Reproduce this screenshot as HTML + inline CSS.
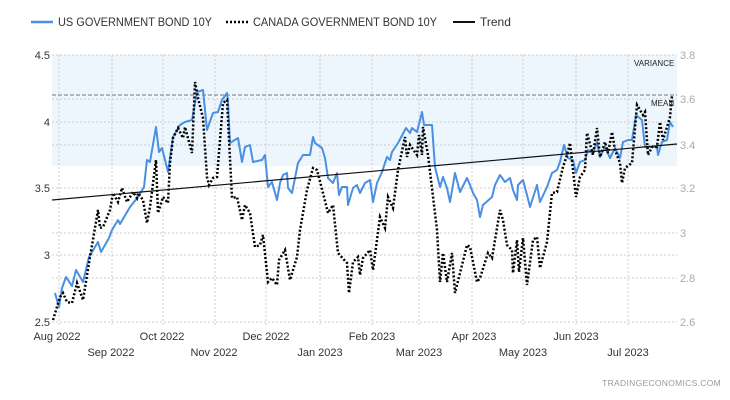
<!DOCTYPE html>
<html><head><meta charset="utf-8"><style>
html,body{margin:0;padding:0;background:#fff}
svg{display:block}
text{font-family:"Liberation Sans",sans-serif}
</style></head><body>
<svg width="730" height="400" viewBox="0 0 730 400" xmlns="http://www.w3.org/2000/svg">
<rect x="52" y="55" width="625" height="111" fill="#eef6fd"/>
<g stroke="#ccc" stroke-width="1" stroke-dasharray="2 2" fill="none">
<line x1="52" y1="55" x2="677" y2="55"/><line x1="52" y1="122" x2="677" y2="122"/><line x1="52" y1="188" x2="677" y2="188"/><line x1="52" y1="255" x2="677" y2="255"/><line x1="52" y1="322" x2="677" y2="322"/>
<line x1="52" y1="99" x2="677" y2="99"/><line x1="52" y1="145" x2="677" y2="145"/><line x1="52" y1="233" x2="677" y2="233"/><line x1="52" y1="278" x2="677" y2="278"/>
<line x1="59" y1="55" x2="59" y2="327"/><line x1="112" y1="55" x2="112" y2="327"/><line x1="163" y1="55" x2="163" y2="327"/><line x1="215" y1="55" x2="215" y2="327"/><line x1="266" y1="55" x2="266" y2="327"/><line x1="320" y1="55" x2="320" y2="327"/><line x1="372" y1="55" x2="372" y2="327"/><line x1="419" y1="55" x2="419" y2="327"/><line x1="472" y1="55" x2="472" y2="327"/><line x1="523" y1="55" x2="523" y2="327"/><line x1="576" y1="55" x2="576" y2="327"/><line x1="628" y1="55" x2="628" y2="327"/>
</g>
<line x1="52" y1="95" x2="677" y2="95" stroke="#777" stroke-width="1" stroke-dasharray="4 2"/>
<text x="634" y="66" font-size="8" fill="#222">VARIANCE</text>
<text x="651" y="106" font-size="8" fill="#222">MEAN</text>
<polyline fill="none" stroke="#4a90e2" stroke-width="2" stroke-linejoin="round" points="55,293 59,307 62,288 66,277 72,286 76,270 83,282 89,257 98,242 101,252 109,238 112,230 118,220 120,224 130,207 138,197 144,187 147,160 150,162 156,127 159,152 162,148 168,172 173,137 180,125 185,122 192,120 197,92 203,90 207,130 213,113 218,112 222,100 227,93 228,102 230,143 238,138 242,162 245,147 250,145 253,162 262,160 265,155 268,187 272,182 277,200 280,183 283,175 287,173 288,188 292,193 298,163 303,155 310,155 313,137 315,143 322,148 325,158 328,178 333,183 337,173 339,195 342,187 347,187 348,205 353,188 357,185 360,193 365,183 370,180 373,202 377,183 382,172 387,157 390,160 392,152 398,143 406,128 410,133 412,128 417,132 422,112 424,125 432,125 435,167 440,187 443,177 447,188 450,202 455,173 460,192 467,178 470,185 473,193 477,200 480,217 483,205 492,197 495,185 500,175 505,182 510,178 513,190 517,200 518,185 523,180 527,195 530,207 537,185 540,202 547,187 552,173 557,170 560,162 564,145 568,158 573,160 576,173 580,162 585,160 588,150 593,153 597,142 600,157 605,147 610,158 615,148 620,158 623,142 628,140 632,140 636,115 642,120 645,147 650,147 657,147 658,155 662,142 667,140 670,122 673,127"/>
<polyline fill="none" stroke="#000" stroke-width="2.5" stroke-dasharray="2 2" points="53,320 60,297 63,293 67,302 72,303 77,283 83,300 90,257 98,210 100,228 103,227 110,210 113,193 118,202 122,188 127,202 133,192 137,198 138,193 143,200 147,223 150,207 156,160 158,213 163,197 168,203 170,163 173,138 178,128 183,138 185,127 192,153 195,82 198,98 203,118 207,177 209,185 213,178 217,177 223,103 227,100 232,198 237,197 242,220 245,205 250,213 255,247 260,245 263,235 268,282 272,278 277,285 279,260 282,255 285,250 290,280 297,257 300,230 307,190 313,168 317,170 323,193 328,213 333,205 338,253 347,263 349,293 353,262 358,257 360,275 363,258 370,250 373,270 380,217 385,228 388,197 393,208 398,170 405,137 407,157 410,145 417,155 419,135 422,155 423,127 428,155 437,230 440,282 443,253 447,282 452,253 455,293 460,273 467,245 470,247 477,282 480,278 488,253 492,258 500,210 503,220 507,245 512,250 513,273 517,240 519,272 523,238 527,285 533,240 537,237 540,268 547,242 552,193 557,192 563,167 567,155 570,143 576,197 580,177 585,170 587,133 593,155 597,128 600,157 605,142 608,153 612,132 615,150 620,163 622,183 625,168 632,163 637,105 643,115 645,112 648,155 652,147 657,147 660,122 663,140 667,127 670,117 672,95"/>
<line x1="52" y1="200" x2="677" y2="144" stroke="#111" stroke-width="1.2"/>
<g font-size="11" fill="#333" text-anchor="end">
<text x="50" y="59">4.5</text><text x="50" y="126">4</text><text x="50" y="192">3.5</text><text x="50" y="259">3</text><text x="50" y="326">2.5</text>
</g>
<g font-size="11" fill="#aaa">
<text x="680" y="59">3.8</text><text x="680" y="103">3.6</text><text x="680" y="149">3.4</text><text x="680" y="192">3.2</text><text x="680" y="237">3</text><text x="680" y="282">2.8</text><text x="680" y="326">2.6</text>
</g>
<g font-size="11" fill="#333" text-anchor="middle">
<text x="57" y="340">Aug 2022</text><text x="111" y="356">Sep 2022</text><text x="162" y="340">Oct 2022</text><text x="214" y="356">Nov 2022</text><text x="266" y="340">Dec 2022</text><text x="320" y="356">Jan 2023</text><text x="372" y="340">Feb 2023</text><text x="419" y="356">Mar 2023</text><text x="474" y="340">Apr 2023</text><text x="523" y="356">May 2023</text><text x="576" y="340">Jun 2023</text><text x="628" y="356">Jul 2023</text>
</g>
<line x1="31" y1="22" x2="53" y2="22" stroke="#4a90e2" stroke-width="2.5"/>
<text x="58" y="26" font-size="12" fill="#333" textLength="154" lengthAdjust="spacingAndGlyphs">US GOVERNMENT BOND 10Y</text>
<line x1="226" y1="22" x2="248" y2="22" stroke="#000" stroke-width="2.5" stroke-dasharray="2 2"/>
<text x="253" y="26" font-size="12" fill="#333" textLength="184" lengthAdjust="spacingAndGlyphs">CANADA GOVERNMENT BOND 10Y</text>
<line x1="453" y1="22" x2="475" y2="22" stroke="#111" stroke-width="2"/>
<text x="480" y="26" font-size="12" fill="#333">Trend</text>
<text x="721" y="386" font-size="8.5" fill="#999" text-anchor="end" letter-spacing="0.3">TRADINGECONOMICS.COM</text>
</svg>
</body></html>
